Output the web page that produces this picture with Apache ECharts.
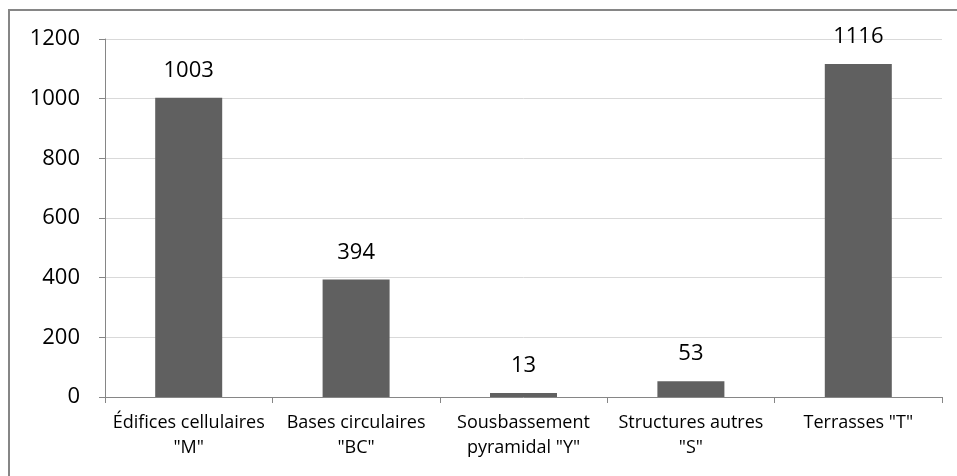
<!DOCTYPE html>
<html><head><meta charset="utf-8">
<script src="https://cdn.jsdelivr.net/npm/echarts@6/dist/echarts.min.js"></script>
<style>html,body{margin:0;padding:0;background:#fff}#c{width:957px;height:476px}</style>
</head><body><div id="c"></div>
<script>
const categories = ['Édifices cellulaires\n"M"', 'Bases circulaires\n"BC"', 'Sousbassement\npyramidal "Y"', 'Structures autres\n"S"', 'Terrasses "T"'];
const values = [1003, 394, 13, 53, 1116];
const yTicks = [0, 200, 400, 600, 800, 1000, 1200];

const chart = echarts.init(document.getElementById('c'));
const font = '"Open Sans", sans-serif';
chart.setOption({
  animation: false,
  graphic: [
    {type: 'polyline', shape: {points: [[9, 476], [9, 10], [957, 10]]}, style: {fill: null, stroke: '#868686', lineWidth: 2}, silent: true}
  ],
  grid: {left: 105, right: 15, top: 39, bottom: 79},
  xAxis: {
    type: 'category', data: categories,
    axisLine: {lineStyle: {color: '#868686'}},
    axisTick: {show: true, length: 6, lineStyle: {color: '#868686'}},
    axisLabel: {color: '#000', fontFamily: font, fontSize: 18, lineHeight: 25, margin: 13, interval: 0}
  },
  yAxis: {
    type: 'value', min: yTicks[0], max: yTicks[yTicks.length - 1], interval: 200,
    axisLine: {show: true, lineStyle: {color: '#868686'}},
    axisTick: {show: true, length: 6, lineStyle: {color: '#868686'}},
    axisLabel: {color: '#000', fontFamily: font, fontSize: 22, margin: 25, formatter: v => String(v)},
    splitLine: {lineStyle: {color: '#d9d9d9'}}
  },
  series: [{
    type: 'bar', data: values, barWidth: 67,
    itemStyle: {color: '#606060'},
    label: {show: true, position: 'top', distance: 16, color: '#000', fontFamily: font, fontSize: 22}
  }]
});
</script></body></html>
